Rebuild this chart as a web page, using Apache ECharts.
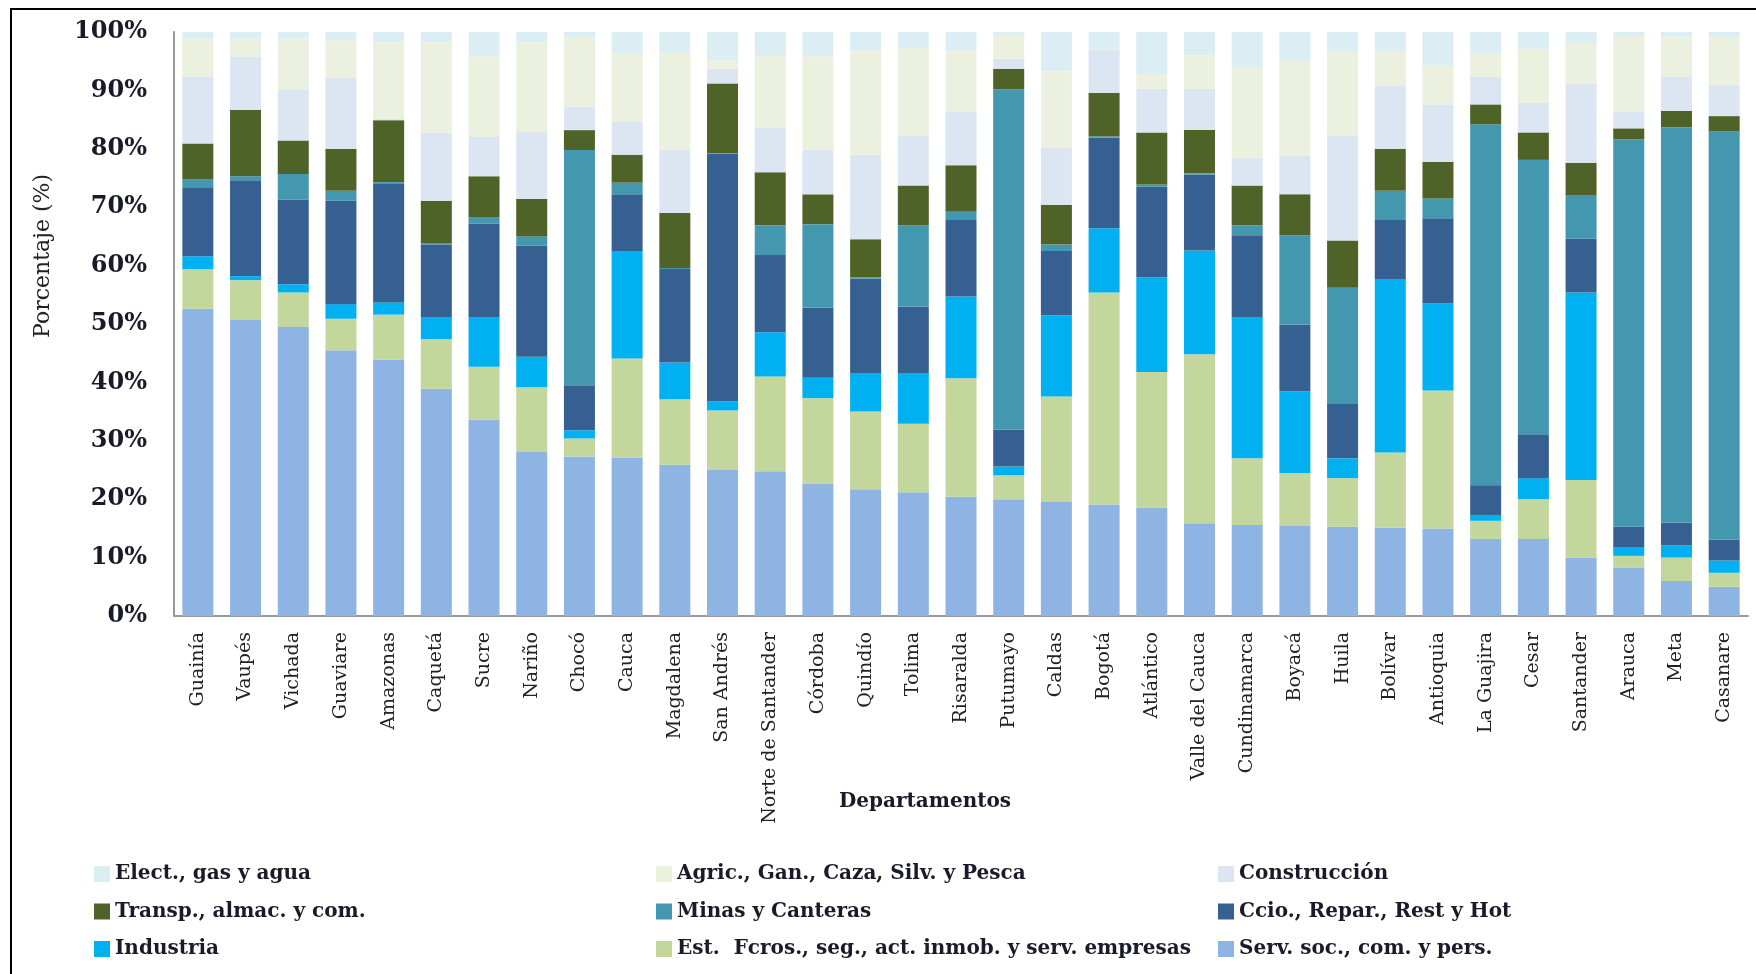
<!DOCTYPE html>
<html>
<head>
<meta charset="utf-8">
<script src="https://cdn.jsdelivr.net/npm/echarts@6/dist/echarts.min.js"></script>
<style>
  html, body { margin: 0; padding: 0; background: #fff; }
  #chart { width: 1756px; height: 974px; }
</style>
</head>
<body>
<div id="chart"></div>
<script>
const departamentos = ['Guainía', 'Vaupés', 'Vichada', 'Guaviare', 'Amazonas', 'Caquetá', 'Sucre', 'Nariño', 'Chocó', 'Cauca',
  'Magdalena', 'San Andrés', 'Norte de Santander', 'Córdoba', 'Quindío', 'Tolima', 'Risaralda', 'Putumayo', 'Caldas', 'Bogotá',
  'Atlántico', 'Valle del Cauca', 'Cundinamarca', 'Boyacá', 'Huila', 'Bolívar', 'Antioquia', 'La Guajira', 'Cesar', 'Santander',
  'Arauca', 'Meta', 'Casanare']

// stacked from the bottom up
const servSoc   = [52.6, 50.7, 49.5, 45.5, 43.9, 38.9, 33.6, 28.1, 27.3, 27.1, 25.9, 25.0, 24.8, 22.7, 21.7, 21.2, 20.4, 20.0, 19.5, 19.1, 18.6, 15.9, 15.6, 15.4, 15.3, 15.1, 15.0, 13.2, 13.2, 10.0, 8.3, 6.0, 5.0]
const estFcros  = [6.8, 6.8, 5.9, 5.4, 7.7, 8.5, 9.1, 11.1, 3.1, 17.0, 11.2, 10.2, 16.2, 14.6, 13.3, 11.7, 20.3, 4.1, 18.1, 36.3, 23.2, 28.9, 11.4, 9.1, 8.3, 12.9, 23.6, 3.1, 6.8, 13.3, 2.0, 4.0, 2.4]
const industria = [2.2, 0.7, 1.4, 2.5, 2.1, 3.8, 8.5, 5.2, 1.4, 18.4, 6.3, 1.6, 7.6, 3.5, 6.6, 8.7, 14.0, 1.5, 13.9, 11.0, 16.2, 17.8, 24.2, 14.0, 3.4, 29.7, 14.9, 1.0, 3.6, 32.1, 1.4, 2.1, 2.1]
const ccio      = [11.8, 16.4, 14.5, 17.7, 20.4, 12.4, 16.0, 19.0, 7.7, 9.7, 16.0, 42.4, 13.2, 12.0, 16.2, 11.4, 13.1, 6.3, 11.0, 15.5, 15.5, 13.0, 14.0, 11.4, 9.3, 10.1, 14.6, 5.1, 7.4, 9.2, 3.6, 3.9, 3.6]
const minas     = [1.4, 0.7, 4.4, 1.7, 0.2, 0.2, 1.1, 1.6, 40.3, 2.0, 0.2, 0.1, 5.1, 14.3, 0.2, 13.9, 1.4, 58.3, 1.1, 0.2, 0.4, 0.2, 1.7, 15.3, 19.9, 5.0, 3.4, 61.8, 47.1, 7.5, 66.3, 67.7, 69.9]
const transp    = [6.1, 11.4, 5.7, 7.2, 10.6, 7.3, 7.0, 6.4, 3.4, 4.8, 9.4, 11.9, 9.1, 5.1, 6.5, 6.8, 8.0, 3.5, 6.8, 7.5, 8.9, 7.4, 6.8, 7.0, 8.1, 7.2, 6.3, 3.4, 4.7, 5.5, 1.9, 2.8, 2.6]
const constr    = [11.4, 9.1, 8.8, 12.2, 0.2, 11.7, 6.7, 11.6, 4.0, 5.7, 10.8, 2.5, 7.7, 7.7, 14.5, 8.6, 9.1, 1.7, 9.8, 7.4, 7.5, 7.1, 4.7, 6.6, 18.0, 10.9, 9.8, 4.7, 5.1, 13.6, 2.8, 5.8, 5.3]
const agric     = [6.6, 3.1, 8.7, 6.4, 13.1, 15.4, 13.8, 15.2, 11.9, 11.6, 16.6, 1.4, 12.2, 15.9, 17.8, 15.0, 10.5, 4.1, 13.1, 0.1, 2.5, 5.7, 15.6, 16.3, 14.3, 5.7, 6.6, 4.0, 9.2, 6.9, 13.0, 6.9, 8.2]
const elect     = [1.1, 1.1, 1.1, 1.4, 1.8, 1.8, 4.2, 1.8, 0.9, 3.7, 3.6, 4.9, 4.1, 4.2, 3.2, 2.7, 3.2, 0.5, 6.7, 2.9, 7.2, 4.0, 6.0, 4.9, 3.4, 3.4, 5.8, 3.7, 2.9, 1.9, 0.7, 0.8, 0.9]

const sectores = [
  ['Serv. soc., com. y pers.', servSoc, '#8EB4E3'],
  ['Est.  Fcros., seg., act. inmob. y serv. empresas', estFcros, '#C3D69B'],
  ['Industria', industria, '#00B0F0'],
  ['Ccio., Repar., Rest y Hot', ccio, '#376092'],
  ['Minas y Canteras', minas, '#4398B0'],
  ['Transp., almac. y com.', transp, '#4F6228'],
  ['Construcción', constr, '#DCE6F2'],
  ['Agric., Gan., Caza, Silv. y Pesca', agric, '#EBF1DE'],
  ['Elect., gas y agua', elect, '#DBEEF4'],
]

const font = 'DejaVu Serif'
const legendCols = [
  ['Elect., gas y agua', 'Transp., almac. y com.', 'Industria'],
  ['Agric., Gan., Caza, Silv. y Pesca', 'Minas y Canteras', 'Est.  Fcros., seg., act. inmob. y serv. empresas'],
  ['Construcción', 'Ccio., Repar., Rest y Hot', 'Serv. soc., com. y pers.'],
]
const legendLeft = [94, 656, 1218]

const chart = echarts.init(document.getElementById('chart'))

const opt = {
  animation: false,
  backgroundColor: '#fff',
  textStyle: { fontFamily: font },
  grid: { left: 174, top: 32, right: 8, bottom: 358 },
  legend: legendCols.map((data, i) => ({
    data,
    orient: 'vertical',
    left: legendLeft[i],
    top: 863,
    padding: 0,
    icon: 'rect',
    itemWidth: 16,
    itemHeight: 16,
    itemGap: 15.5,
    selectedMode: false,
    textStyle: { fontFamily: font, fontWeight: 'bold', fontSize: 20, color: '#1a1a2a', lineHeight: 22 },
  })),
  xAxis: {
    type: 'category',
    data: departamentos,
    axisLine: { lineStyle: { color: '#999', width: 2 } },
    axisTick: { show: false },
    axisLabel: { interval: 0, rotate: 90, margin: 16, fontFamily: font, fontSize: 19, color: '#222' },
  },
  yAxis: {
    type: 'value',
    min: 0,
    max: 100,
    interval: 10,
    axisLine: { show: true, lineStyle: { color: '#999', width: 2 } },
    axisTick: { show: false },
    splitLine: { show: false },
    axisLabel: { formatter: '{value}%', margin: 27, fontFamily: font, fontWeight: 'bold', fontSize: 24, color: '#1a1a2a' },
  },
  graphic: [
    { type: 'rect', shape: { x: 11, y: 9, width: 1800, height: 1000 }, style: { fill: 'none', stroke: '#000', lineWidth: 2 } },
    { type: 'text', x: 43, y: 256, rotation: Math.PI / 2,
      style: { text: 'Porcentaje (%)', font: `22px "${font}"`, fill: '#222', textAlign: 'center', textVerticalAlign: 'middle' } },
    { type: 'text', x: 925, y: 802,
      style: { text: 'Departamentos', font: `bold 20px "${font}"`, fill: '#1a1a2a', textAlign: 'center', textVerticalAlign: 'middle' } },
  ],
  series: sectores.map(([name, data, color]) => ({
    name,
    type: 'bar',
    stack: 'total',
    barWidth: '65%',
    itemStyle: { color },
    data,
  })),
}

chart.setOption(opt)
</script>
</body>
</html>
